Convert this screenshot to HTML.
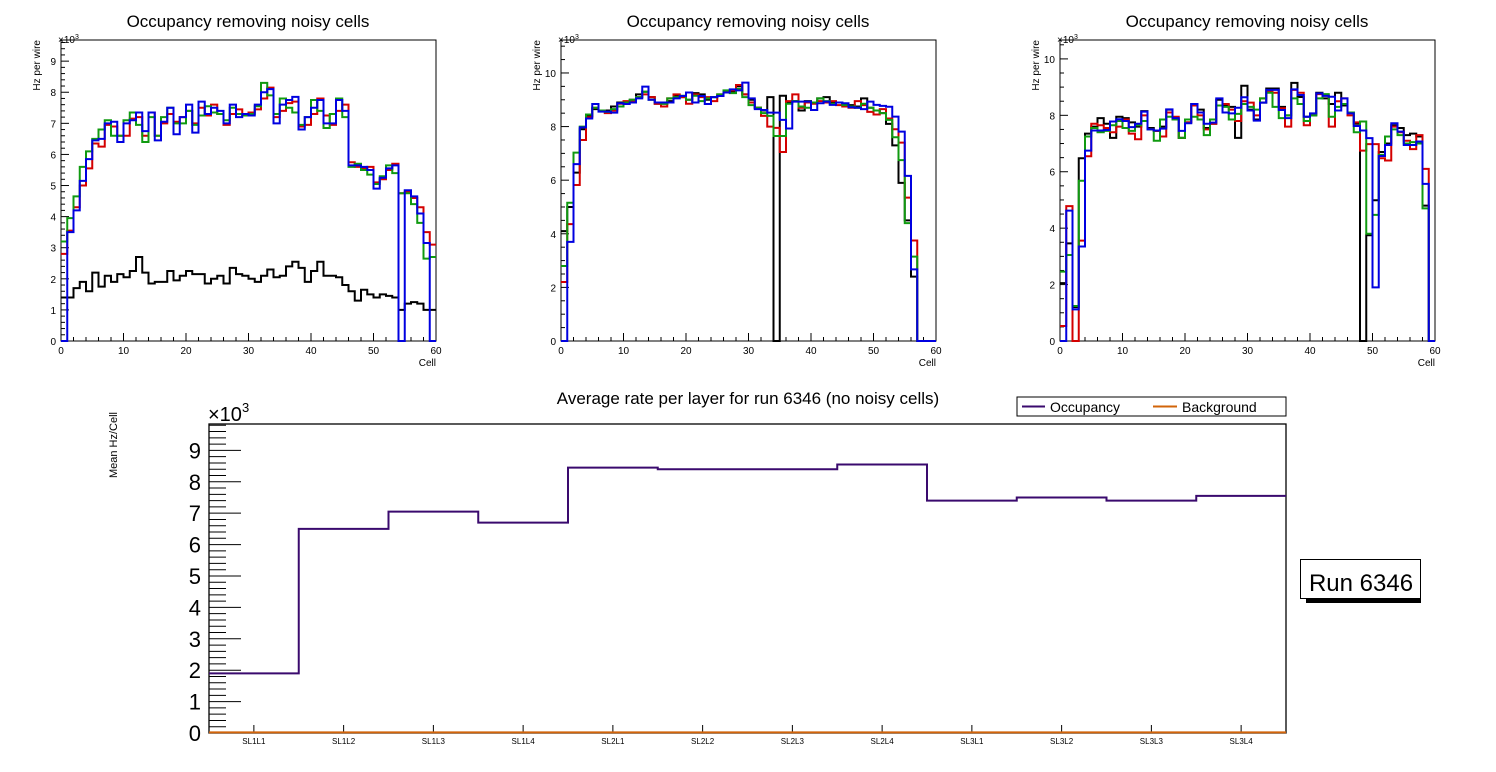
<!DOCTYPE html>
<html><head><meta charset="utf-8"><style>
html,body{margin:0;padding:0;background:#fff;}
svg{display:block;font-family:"Liberation Sans",Arial,sans-serif;}
</style></head><body>
<svg id="c" width="1496" height="772" viewBox="0 0 1496 772"></svg>
<script>
// ---------- data ----------
const cells = Array.from({length:60},(_,i)=>i);
const p1Black=[1.4,1.4,1.7,1.9,1.6,2.2,1.75,2.1,1.9,2.15,2.05,2.25,2.7,2.2,1.85,1.9,1.9,2.25,1.95,2.1,2.25,2.15,2.15,1.85,2.0,2.1,1.85,2.35,2.15,2.1,2.0,1.9,2.1,2.3,2.05,2.1,2.4,2.55,2.35,1.9,2.25,2.55,2.1,2.1,2.05,1.8,1.6,1.3,1.65,1.5,1.4,1.5,1.45,1.4,1.0,1.2,1.25,1.2,1.0,1.0];
const p1Red=[2.8,3.55,4.3,5.0,5.55,6.35,6.25,6.95,6.9,6.6,6.6,7.15,7.2,6.6,7.35,6.6,7.0,7.3,7.05,7.2,7.4,7.0,7.5,7.25,7.6,7.3,6.95,7.3,7.45,7.3,7.35,7.45,7.8,8.15,7.2,7.4,7.65,7.7,6.9,6.95,7.3,7.8,7.25,6.95,7.4,7.6,5.75,5.6,5.55,5.6,5.1,5.2,5.5,5.7,4.75,4.8,4.6,4.3,3.5,3.1];
const p1Green=[3.2,3.95,4.65,5.6,6.1,6.5,6.8,7.1,6.6,6.6,7.1,7.35,6.95,6.4,7.2,6.6,7.2,7.5,7.0,7.0,7.4,6.95,7.25,7.55,7.35,7.3,7.1,7.5,7.3,7.25,7.3,7.55,8.3,7.9,7.3,7.8,7.5,7.35,6.95,7.2,7.75,7.4,6.85,7.3,7.8,7.2,5.6,5.7,5.5,5.35,5.05,5.3,5.65,5.4,4.75,4.75,4.4,3.8,2.65,2.7];
const p1Blue=[0,3.5,4.2,5.15,5.85,6.45,6.5,7.0,7.05,6.4,7.0,7.1,7.35,6.75,7.35,6.45,7.05,7.5,6.65,7.2,7.6,6.7,7.7,7.3,7.5,7.4,7.0,7.6,7.2,7.3,7.25,7.6,8.0,8.1,7.0,7.6,7.75,7.85,6.8,7.2,7.5,7.75,7.0,7.0,7.75,7.4,5.65,5.65,5.6,5.5,4.9,5.25,5.55,5.65,0,4.85,4.65,4.1,3.15,0];

const p2Black=[4.1,5.0,6.28,7.9,8.4,8.65,8.6,8.6,8.75,8.9,8.9,9.0,9.2,9.3,9.1,8.85,8.85,8.95,9.15,9.1,9.0,9.25,9.2,9.0,9.1,9.15,9.3,9.3,9.5,9.2,9.0,8.7,8.6,9.1,0,9.15,8.9,8.95,8.6,8.95,8.9,9.05,9.1,8.9,8.9,8.85,8.8,8.75,9.05,8.7,8.6,8.5,8.1,7.3,5.9,4.5,2.4,0,0,0];
const p2Red=[2.2,4.36,5.82,7.5,8.35,8.7,8.6,8.5,8.6,8.85,8.95,8.95,9.1,9.2,9.1,8.85,8.75,9.05,9.2,9.1,8.85,9.2,9.1,9.1,8.95,9.2,9.3,9.35,9.55,9.2,8.9,8.7,8.4,8.0,7.95,7.05,8.95,9.2,8.7,8.9,8.85,8.95,8.9,8.95,8.8,8.75,8.7,8.95,8.8,8.55,8.45,8.65,8.3,7.9,7.4,5.35,3.75,0,0,0];
const p2Green=[2.8,5.16,7.03,8.0,8.45,8.7,8.6,8.55,8.65,8.75,8.9,9.0,9.1,9.3,9.0,8.9,8.85,9.05,9.1,9.15,9.0,9.15,8.95,9.05,9.1,9.2,9.35,9.25,9.4,9.1,8.8,8.7,8.5,8.4,7.65,7.65,8.85,8.95,8.75,8.7,8.9,9.05,8.95,8.85,8.9,8.8,8.75,8.7,8.85,8.7,8.6,8.5,8.25,7.6,6.75,4.4,3.15,0,0,0];
const p2Blue=[0,3.7,6.6,7.97,8.3,8.84,8.56,8.56,8.52,8.87,8.84,8.9,9.05,9.49,9.0,8.9,8.9,8.9,9.05,9.14,9.27,8.9,9.14,8.84,9.1,9.14,9.27,9.39,9.35,9.64,9.05,8.65,8.62,8.52,8.52,8.25,7.93,8.93,8.93,8.93,8.62,8.87,8.93,8.81,8.9,8.87,8.72,8.7,8.65,8.93,8.81,8.77,8.74,8.37,7.81,6.16,2.67,0,0,0];

const p3Black=[2.05,3.46,1.2,6.48,7.35,7.6,7.9,7.7,7.2,7.95,7.9,7.75,7.6,8.15,7.55,7.45,7.6,8.2,7.85,7.2,7.75,8.4,8.2,7.55,7.7,8.55,8.35,8.3,7.2,9.05,8.2,7.85,8.45,8.95,8.95,8.3,8.0,9.15,8.65,7.95,8.0,8.8,8.6,8.4,8.8,8.35,8.1,7.7,0,3.75,4.99,6.7,7.0,7.65,7.55,7.3,7.35,7.25,4.8,0];
const p3Red=[0.53,4.78,0,3.56,6.55,7.7,7.65,7.55,7.4,7.6,7.85,7.35,7.15,8.0,7.5,7.45,7.25,8.1,7.95,7.2,7.75,8.35,8.0,7.5,7.7,8.35,8.4,8.2,7.8,8.5,8.45,8.0,8.6,8.85,8.8,8.25,7.6,8.9,8.8,7.65,8.05,8.75,8.7,7.6,8.5,8.6,8.0,7.75,6.75,6.98,6.98,6.48,6.4,7.6,7.4,7.1,6.8,7.3,6.1,0];
const p3Green=[2.46,3.05,1.24,5.68,7.25,7.55,7.4,7.45,7.65,7.8,7.55,7.45,7.65,7.8,7.5,7.1,7.85,7.95,7.85,7.2,7.85,7.95,7.85,7.3,7.85,8.35,8.3,7.85,8.05,8.4,8.3,8.2,8.6,8.8,8.3,7.9,8.0,8.6,8.4,7.8,8.0,8.6,8.75,7.95,8.3,8.4,8.1,7.4,7.78,3.8,4.47,6.6,7.25,7.5,7.3,7.0,7.05,7.0,4.7,0];
const p3Blue=[0,4.62,1.12,3.35,6.75,7.46,7.46,7.48,7.78,7.86,7.8,7.58,7.7,8.13,7.5,7.46,7.53,8.21,7.9,7.45,7.72,8.4,8.1,7.7,7.74,8.6,8.1,8.07,8.27,8.64,8.17,7.81,8.45,8.9,8.9,8.19,7.9,8.92,8.72,7.95,8.07,8.78,8.69,8.66,8.17,8.6,8.07,7.62,7.46,7.19,1.9,6.56,6.95,7.72,7.42,6.95,6.95,7.07,5.57,0];

const layers=["SL1L1","SL1L2","SL1L3","SL1L4","SL2L1","SL2L2","SL2L3","SL2L4","SL3L1","SL3L2","SL3L3","SL3L4"];
const occupancy=[1.9,6.5,7.05,6.7,8.45,8.4,8.4,8.55,7.4,7.5,7.4,7.55];
const background=[0.02,0.02,0.02,0.02,0.02,0.02,0.02,0.02,0.02,0.02,0.02,0.02];
const p1Ticks=[0,1,2,3,4,5,6,7,8,9];
const p23Ticks=[0,2,4,6,8,10];
const xTicks=[0,10,20,30,40,50,60];
const bottomTicks=[0,1,2,3,4,5,6,7,8,9];

// ---------- helpers ----------
const svg=document.getElementById('c');
const NS='http://www.w3.org/2000/svg';
function mk(tag,attrs,parent){const e=document.createElementNS(NS,tag);for(const k in attrs)e.setAttribute(k,attrs[k]);(parent||svg).appendChild(e);return e;}
function txt(s,x,y,size,anchor,parent,extra){const t=mk('text',Object.assign({x:x,y:y,'font-size':size,'text-anchor':anchor||'start',fill:'#000'},extra||{}),parent);t.textContent=s;return t;}

function panel(name,x0,x1,y0,y1,ymax,ticks,minorStep,series,cx){
  const g=mk('g',{});
  
  
  const xs=v=>x0+(v/60)*(x1-x0);
  const ys=v=>y0-(v/ymax)*(y0-y1);
  // title
  const t=txt('Occupancy removing noisy cells',cx,27,17,'middle',g);
  
  
  // frame
  const f=mk('rect',{x:x0,y:y1,width:x1-x0,height:y0-y1,fill:'none',stroke:'#000','stroke-width':1},g);
  
  
  // y ticks
  for(let v=0;v<=ymax+1e-6;v+=minorStep){
    const yy=ys(v);const maj=ticks.some(tk=>Math.abs(tk-v)<1e-6);
    mk('line',{x1:x0,x2:x0+(maj?8:4),y1:yy,y2:yy,stroke:'#000','stroke-width':1},g);
  }
  ticks.forEach(tk=>{const l=txt(String(tk),x0-5,ys(tk)+4,10,'end',g);
    
    });
  for(let c=0;c<=60;c+=2){const xx=xs(c);const maj=c%10===0;
    mk('line',{x1:xx,x2:xx,y1:y0,y2:y0-(maj?8:4),stroke:'#000','stroke-width':1},g);}
  xTicks.forEach(c=>{const l=txt(String(c),xs(c),354,10,'middle',g);
    
    });
  const e=txt('\u00d710',x0-3,y1+3,10,'start',g);
  const sup=mk('tspan',{dy:-4,'font-size':7},e);sup.textContent='3';
  
  
  const xl=txt('Cell',x1,366,10,'end',g);
  
  
  const yl=txt('Hz per wire',0,0,10,'end',g,{transform:`translate(${x0-21},${y1}) rotate(-90)`});
  
  
  // series
  series.forEach(s=>{
    let d='';
    for(let i=0;i<60;i++){const v=s.v[i]||0;const y=ys(v);
      d+=(i===0?'M':'L')+xs(i)+','+y+'L'+xs(i+1)+','+y;}
    const p=mk('path',{d:d,fill:'none',stroke:s.c,'stroke-width':2,'stroke-linejoin':'miter'},g);
    
    
  });
}
const cols={k:'#000',r:'#d40000',g:'#109a10',b:'#0000e0'};
panel('panel-left',61,436,341,40,9.68,p1Ticks,0.2,[
 {n:'series-black',c:cols.k,v:p1Black},{n:'series-red',c:cols.r,v:p1Red},{n:'series-green',c:cols.g,v:p1Green},{n:'series-blue',c:cols.b,v:p1Blue}],248);
panel('panel-middle',561,936,341,40,11.23,p23Ticks,0.5,[
 {n:'series-black',c:cols.k,v:p2Black},{n:'series-red',c:cols.r,v:p2Red},{n:'series-green',c:cols.g,v:p2Green},{n:'series-blue',c:cols.b,v:p2Blue}],748);
panel('panel-right',1060,1435,341,40,10.67,p23Ticks,0.5,[
 {n:'series-black',c:cols.k,v:p3Black},{n:'series-red',c:cols.r,v:p3Red},{n:'series-green',c:cols.g,v:p3Green},{n:'series-blue',c:cols.b,v:p3Blue}],1247);

// ---------- bottom chart ----------
(function(){
  const x0=209,x1=1286,y0=733,y1=424,ymax=9.84;
  const g=mk('g',{});
  
  
  const n=layers.length,bw=(x1-x0)/n;
  const xs=i=>x0+i*bw;
  const ys=v=>y0-(v/ymax)*(y0-y1);
  const t=txt('Average rate per layer for run 6346 (no noisy cells)',748,404,17,'middle',g);
  
  
  const f=mk('rect',{x:x0,y:y1,width:x1-x0,height:y0-y1,fill:'none',stroke:'#000','stroke-width':1.3},g);
  
  
  for(let k=0;k*0.2<=ymax+1e-6;k++){const v=k*0.2;const yy=ys(v);const maj=k%5===0;
    mk('line',{x1:x0,x2:x0+(maj?32:17),y1:yy,y2:yy,stroke:'#000','stroke-width':1},g);}
  bottomTicks.forEach(tk=>{const l=txt(String(tk),201,ys(tk)+8,22,'end',g);
    
    });
  const e=txt('\u00d710',208,421,20,'start',g);
  const sup=mk('tspan',{dy:-9,'font-size':13},e);sup.textContent='3';
  
  
  const yl=txt('Mean Hz/Cell',0,0,11,'end',g,{transform:`translate(117,412) rotate(-90)`});
  
  
  layers.forEach((L,i)=>{const cx=xs(i)+bw/2;
    mk('line',{x1:cx,x2:cx,y1:y0,y2:y0-8,stroke:'#000','stroke-width':1},g);
    const l=txt(L,cx,744,8,'middle',g);
    
    });
  function step(vals,color,name){let d='';
    vals.forEach((v,i)=>{const y=ys(v);d+=(i===0?'M':'L')+xs(i)+','+y+'L'+xs(i+1)+','+y;});
    const p=mk('path',{d:d,fill:'none',stroke:color,'stroke-width':2},g);
    
    }
  step(background,'#d2640a','background-series');
  step(occupancy,'#3a0a6e','occupancy-series');
  // legend
  const lg=mk('g',{},g);
  
  
  mk('rect',{x:1017,y:397,width:269,height:19,fill:'#fff',stroke:'#000','stroke-width':1},lg);
  mk('line',{x1:1022,x2:1045,y1:406.5,y2:406.5,stroke:'#3a0a6e','stroke-width':2},lg);
  const a=txt('Occupancy',1050,412,14,'start',lg);
  
  
  mk('line',{x1:1153,x2:1177,y1:406.5,y2:406.5,stroke:'#d2640a','stroke-width':2},lg);
  const b=txt('Background',1182,412,14,'start',lg);
  
  
  // run label
  const rb=mk('g',{});
  
  
  mk('rect',{x:1306,y:598,width:115,height:5,fill:'#000'},rb);
  mk('rect',{x:1300.5,y:559.5,width:120,height:39,fill:'#fff',stroke:'#000','stroke-width':1},rb);
  txt('Run 6346',1361,591,24,'middle',rb);
})();
</script>
</body></html>
